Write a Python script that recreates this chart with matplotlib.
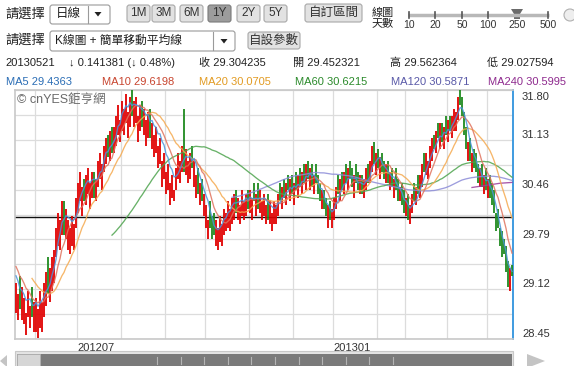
import matplotlib.pyplot as plt
import matplotlib.patches as mpatches
import matplotlib.transforms as mtransforms
import numpy as np
import pandas as pd

plt.rcParams["font.family"] = ["Liberation Sans", "Noto Sans CJK TC", "DejaVu Sans"]

W, H = 574, 366

# daily closes before the visible window (only used to warm up the MAs)
pre_closes = [29.75, 29.70, 29.65, 29.60, 29.50, 29.55, 29.45, 29.40, 29.35, 29.30, 29.25]

# visible year, one row per 10 trading days (2012-05-21 .. 2013-05-21)
opens = [
    28.80, 28.70, 29.30, 28.70, 28.65, 28.50, 28.75, 28.60, 29.15, 28.55,
    28.55, 28.47, 28.60, 28.55, 28.75, 28.90, 29.55, 28.95, 29.10, 29.20,
    29.55, 29.70, 29.65, 29.85, 30.30, 29.80, 29.65, 29.60, 29.70, 29.65,
    29.95, 30.15, 30.30, 30.10, 30.60, 30.25, 30.40, 30.20, 30.35, 30.70,
    30.30, 30.50, 30.60, 30.45, 30.70, 30.80, 31.20, 30.85, 31.30, 30.95,
    31.05, 31.20, 31.10, 31.25, 31.20, 31.35, 31.15, 31.30, 31.82, 31.30,
    31.35, 31.10, 31.25, 31.65, 31.20, 31.05, 31.15, 31.55, 31.00, 30.90,
    30.95, 30.75, 30.80, 30.50, 30.60, 30.40, 30.45, 30.25, 30.35, 30.30,
    30.45, 30.60, 30.55, 30.70, 31.55, 30.65, 30.55, 30.60, 31.05, 30.50,
    30.35, 30.75, 30.25, 30.60, 30.10, 29.95, 29.80, 30.30, 30.10, 30.15,
    29.70, 29.65, 29.75, 29.70, 29.85, 29.90, 29.95, 29.90, 30.00, 30.05,
    30.45, 30.05, 30.00, 30.10, 30.05, 30.10, 30.45, 30.15, 30.05, 30.55,
    30.10, 30.55, 30.15, 30.05, 30.10, 30.00, 30.40, 30.00, 29.90, 30.00,
    30.00, 30.10, 30.55, 30.20, 30.60, 30.25, 30.65, 30.30, 30.65, 30.25,
    30.70, 30.35, 30.75, 30.40, 30.80, 30.45, 30.85, 30.45, 30.80, 30.40,
    30.80, 30.65, 30.55, 30.20, 30.45, 30.35, 29.95, 30.30, 29.95, 30.05,
    30.20, 30.65, 30.30, 30.70, 30.40, 30.80, 30.45, 30.85, 30.75, 30.35,
    30.80, 30.70, 30.40, 30.65, 30.35, 30.45, 30.80, 30.55, 30.70, 31.10,
    30.65, 31.00, 30.60, 30.95, 30.85, 30.55, 30.85, 30.45, 30.75, 30.35,
    30.75, 30.60, 30.30, 30.55, 30.45, 30.10, 30.40, 30.00, 30.15, 30.55,
    30.25, 30.65, 30.35, 30.50, 30.95, 30.65, 30.60, 30.75, 30.85, 31.20,
    30.95, 31.35, 31.00, 31.35, 31.00, 31.45, 31.10, 31.45, 31.15, 31.25,
    31.25, 31.40, 31.82, 31.70, 31.50, 31.30, 30.85, 31.15, 30.70, 31.00,
    30.95, 30.80, 30.50, 30.80, 30.40, 30.75, 30.35, 30.65, 30.55, 30.45,
    30.15, 30.20, 29.95, 29.90, 29.80, 29.70, 29.50, 29.10, 29.45,
]
closes = [
    29.20, 29.05, 28.85, 29.15, 29.00, 28.80, 29.10, 28.90, 28.75, 28.95,
    29.00, 28.85, 29.10, 28.95, 29.20, 29.35, 29.05, 29.40, 29.55, 29.65,
    29.95, 30.15, 30.05, 30.30, 29.85, 30.20, 30.05, 29.95, 30.10, 30.00,
    30.35, 30.55, 30.70, 30.50, 30.30, 30.65, 30.75, 30.55, 30.70, 30.35,
    30.60, 30.85, 30.95, 30.80, 31.05, 31.15, 30.90, 31.25, 30.95, 31.30,
    31.45, 31.60, 31.40, 31.65, 31.55, 31.75, 31.50, 31.70, 31.45, 31.65,
    31.70, 31.45, 31.60, 31.30, 31.55, 31.40, 31.50, 31.15, 31.35, 31.20,
    31.30, 31.05, 31.15, 30.85, 30.95, 30.70, 30.80, 30.55, 30.65, 30.45,
    30.75, 30.95, 30.85, 31.05, 30.70, 31.00, 30.85, 30.95, 30.75, 30.85,
    30.65, 30.40, 30.55, 30.30, 30.40, 30.25, 30.05, 29.95, 29.80, 29.85,
    30.05, 29.95, 30.10, 30.00, 30.20, 30.15, 30.30, 30.20, 30.35, 30.40,
    30.15, 30.35, 30.25, 30.45, 30.30, 30.40, 30.20, 30.45, 30.35, 30.30,
    30.40, 30.20, 30.45, 30.30, 30.40, 30.25, 30.05, 30.30, 30.15, 30.30,
    30.25, 30.40, 30.30, 30.50, 30.35, 30.55, 30.45, 30.60, 30.40, 30.55,
    30.45, 30.65, 30.50, 30.70, 30.55, 30.80, 30.60, 30.75, 30.50, 30.65,
    30.55, 30.40, 30.30, 30.45, 30.20, 30.10, 30.25, 30.05, 30.20, 30.35,
    30.50, 30.40, 30.60, 30.45, 30.70, 30.55, 30.75, 30.60, 30.50, 30.65,
    30.55, 30.45, 30.65, 30.40, 30.60, 30.75, 30.55, 30.85, 31.05, 30.80,
    30.95, 30.75, 30.90, 30.70, 30.60, 30.80, 30.55, 30.70, 30.50, 30.60,
    30.45, 30.30, 30.50, 30.25, 30.15, 30.35, 30.05, 30.25, 30.40, 30.30,
    30.50, 30.40, 30.65, 30.80, 30.70, 30.95, 30.85, 31.05, 31.15, 31.00,
    31.25, 31.15, 31.35, 31.10, 31.30, 31.20, 31.40, 31.25, 31.45, 31.55,
    31.50, 31.70, 31.60, 31.45, 31.20, 31.00, 31.10, 30.85, 30.95, 30.75,
    30.70, 30.55, 30.75, 30.50, 30.65, 30.45, 30.60, 30.35, 30.25, 30.15,
    29.90, 29.95, 29.70, 29.55, 29.60, 29.35, 29.15, 29.40, 29.30,
]

# first trading day of each month (bar index)
month_idx = [10, 31, 53, 75, 95, 117, 139, 159, 181, 195, 216, 236]
month_labels = {31: "201207", 159: "201301"}

y_ticks = [28.45, 29.12, 29.79, 30.46, 31.13, 31.80]
ref_level = 30.09

ma_names = ["MA5", "MA10", "MA20", "MA60", "MA120", "MA240"]
ma_windows = [5, 10, 20, 60, 120, 240]
ma_last = ["29.4363", "29.6198", "30.0705", "30.6215", "30.5871", "30.5995"]
ma_text_colors = ["#2a6db5", "#c8452f", "#e29b22", "#2b8a2b", "#5a5aa8", "#8e2a8e"]
ma_line_colors = ["#4a94dc", "#e0735e", "#f5aa50", "#4ea44e", "#8c8cd8", "#9a3a9a"]

header_vals = ["20130521", "\u2193 0.141381 (\u2193 0.48%)", "收 29.304235",
               "開 29.452321", "高 29.562364", "低 29.027594"]
header_x = [5, 69, 199, 293, 390, 487]

period_buttons = ["1M", "3M", "6M", "1Y", "2Y", "5Y"]
period_left = [127, 152, 180, 208, 237, 264]
slider_labels = ["10", "20", "50", "100", "250", "500"]
slider_x = [409, 435, 462, 488, 517, 548]

fig = plt.figure(figsize=(W / 100, H / 100), dpi=100)
fig.patch.set_facecolor("white")

# pixel coordinates, origin top-left
pix = mtransforms.Affine2D().scale(1 / 100, -1 / 100).translate(0, H / 100) + fig.dpi_scale_trans


def box(x, y, w, h, face, edge="#9a9a9a", r=2.5, lw=0.8):
    p = mpatches.FancyBboxPatch((x, y), w, h, boxstyle=f"round,pad=0,rounding_size={r}",
                                facecolor=face, edgecolor=edge, lw=lw, transform=pix)
    fig.add_artist(p)


def label(x, y, s, size=8.5, color="#222222", ha="left"):
    fig.text(x, y, s, transform=pix, fontsize=size, color=color, ha=ha, va="center")


def arrow_down(cx, cy, color="#222222"):
    tri = mpatches.Polygon([(cx - 3.5, cy - 2), (cx + 3.5, cy - 2), (cx, cy + 2.5)],
                           closed=True, facecolor=color, edgecolor="none", transform=pix)
    fig.add_artist(tri)


# ---- top controls ----
label(5, 14, "請選擇", size=9.5)
box(50, 5, 60, 19, "white")
label(56, 14.5, "日線", size=9)
fig.add_artist(plt.Line2D([88, 88], [6, 23], color="#9a9a9a", lw=0.8, transform=pix))
arrow_down(98, 14)

for name, left in zip(period_buttons, period_left):
    pressed = name == "1Y"
    box(left, 5, 23, 17, "#9c9c9c" if pressed else "#e2e2e2",
        edge="#7a7a7a" if pressed else "#a8a8a8")
    label(left + 11.5, 13.5, name, size=8.5, color="#333333", ha="center")
box(305, 4, 57, 18, "#e2e2e2", edge="#a8a8a8")
label(333.5, 13, "自訂區間", size=9, color="#333333", ha="center")

label(372, 12.5, "線圖", size=8)
label(372, 23.5, "天數", size=8)
fig.add_artist(plt.Line2D([408, 549], [15, 15], color="#b8b8b8", lw=2.5,
                          transform=pix, solid_capstyle="butt"))
for sx, sl in zip(slider_x, slider_labels):
    if sl == "250":
        mark = mpatches.Polygon([(sx - 6, 9), (sx + 6, 9), (sx + 3, 14), (sx + 3, 19), (sx - 3, 19), (sx - 3, 14)],
                                closed=True, facecolor="#6a6a6a", edgecolor="none", transform=pix)
        fig.add_artist(mark)
    else:
        fig.add_artist(plt.Line2D([sx, sx], [12, 18], color="#555555", lw=1.2, transform=pix))
    label(sx, 25.5, sl, size=7.5, color="#333333", ha="center")
fig.add_artist(mpatches.Ellipse((570, 15), 12, 12, facecolor="#eeeeee", edgecolor="#b0b0b0",
                                lw=0.8, transform=pix))

label(5, 40, "請選擇", size=9.5)
box(50, 31, 185, 20, "white")
label(55, 41, "K線圖 + 簡單移動平均線", size=8.5)
fig.add_artist(plt.Line2D([213, 213], [32, 50], color="#9a9a9a", lw=0.8, transform=pix))
arrow_down(224, 41)
box(248, 32, 52, 17, "#e2e2e2", edge="#a8a8a8")
label(274, 40.5, "自設參數", size=9, color="#333333", ha="center")

for hx, hv in zip(header_x, header_vals):
    label(hx, 63, hv, size=8)

# MA legend
for i, (n, v) in enumerate(zip(ma_names, ma_last)):
    label(6 + i * 96.3, 82, f"{n} {v}", size=8, color=ma_text_colors[i])

# ---- chart ----
ax = fig.add_axes([15 / W, (H - 339) / H, 498 / W, 249 / H])
ax.set_facecolor("white")

n = len(closes)
x = np.arange(n)
o = np.array(opens)
c = np.array(closes)
up = c >= o
bar_colors = np.where(up, "#e00000", "#1f8a1f")
ax.vlines(x, np.minimum(o, c), np.maximum(o, c), colors=bar_colors, lw=1.3, zorder=3)

series = pd.Series(pre_closes + closes)
for w, col in list(zip(ma_windows, ma_line_colors))[::-1]:
    ma = series.rolling(w).mean().to_numpy()[len(pre_closes):]
    ax.plot(x, ma, color=col, lw=0.95, alpha=0.85, zorder=4)

ax.axhline(ref_level, color="#111111", lw=1.0, zorder=2)

ax.set_xlim(-0.5, n - 0.5)
ax.set_ylim(y_ticks[0], y_ticks[-1])
ax.set_yticks(np.linspace(y_ticks[0], y_ticks[-1], 11))
ax.set_xticks([m - 0.5 for m in month_idx])
ax.grid(True, color="#dcdcdc", lw=0.9, zorder=0)
ax.tick_params(length=0, labelleft=False, labelbottom=False)
for s in ["left", "top", "bottom"]:
    ax.spines[s].set_color("#c8c8c8")
    ax.spines[s].set_linewidth(1.2)
ax.spines["right"].set_color("#3f9be0")
ax.spines["right"].set_linewidth(1.4)

for v in y_ticks:
    dy = -5 if v == y_ticks[-1] else 3.5
    ax.annotate(f"{v:.2f}", xy=(1, v), xycoords=("axes fraction", "data"),
                xytext=(6.5, dy), textcoords="offset points",
                ha="left", va="center", fontsize=8, color="#333333")
for m, txt in month_labels.items():
    ax.annotate(txt, xy=(m - 0.5, 0), xycoords=("data", "axes fraction"),
                xytext=(0.5, -6.5), textcoords="offset points",
                ha="left", va="center", fontsize=8, color="#333333")

ax.text(0.005, 0.985, "© cnYES鉅亨網", transform=ax.transAxes, fontsize=9,
        color="#6a6a6a", ha="left", va="top", zorder=5)

# ---- scrollbar ----
fig.add_artist(mpatches.Rectangle((15, 351), 498, 16, facecolor="#e4e4e4",
                                  edgecolor="#c8c8c8", lw=0.8, transform=pix))
fig.add_artist(mpatches.Rectangle((17, 354), 495, 13, facecolor="#7a7a7a",
                                  edgecolor="none", transform=pix))
fig.add_artist(mpatches.Rectangle((17, 354), 23, 13, facecolor="#d6d6d6",
                                  edgecolor="#b0b0b0", lw=0.6, transform=pix))
for tx in np.arange(157, 400, 23.6):
    fig.add_artist(plt.Line2D([tx, tx], [357, 364], color="#b4b4b4", lw=0.8, transform=pix))
fig.add_artist(mpatches.Polygon([(0, 361), (7, 355), (7, 367)], closed=True,
                                facecolor="#c4c4c4", edgecolor="none", transform=pix))
fig.add_artist(mpatches.Polygon([(527, 354), (545, 361), (527, 368)], closed=True,
                                facecolor="#c4c4c4", edgecolor="none", transform=pix))

fig.savefig("out.png", dpi=100, facecolor="white")
